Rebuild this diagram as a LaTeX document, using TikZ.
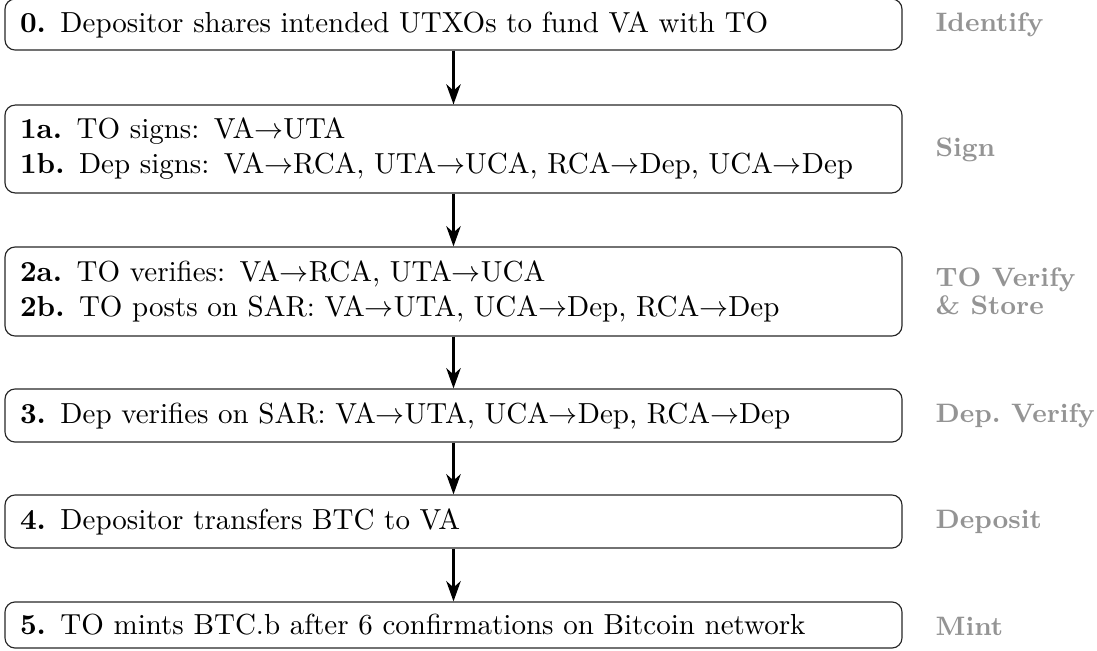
\documentclass[tikz,border=0pt]{standalone}
\usetikzlibrary{arrows.meta}
\begin{document}
\begin{tikzpicture}[x=0.3448pt, y=-0.3448pt,
  stepbox/.style={draw=black!85, line width=0.4pt, rounded corners=3.5pt,
    inner xsep=5.17pt, inner ysep=0pt, text width=298.9pt, align=left,
    minimum width=309.3pt},
  phase/.style={anchor=west, inner sep=0pt, text=black!42,
    font=\fontsize{9.2}{9.8}\selectfont\bfseries, align=left},
  flow/.style={line width=0.75pt, -{Stealth[length=7pt, width=5pt, inset=2.2pt]}}]
\useasboundingbox (0,0) rectangle (1097,651);
% process steps
\node[stepbox, minimum height=17.6pt] (s0) at (453.5,24.5)
  {\textbf{0.} Depositor shares intended UTXOs to fund VA with TO};
\node[stepbox, minimum height=30.3pt] (s1) at (453.5,149)
  {\textbf{1a.} TO signs: VA$\rightarrow$UTA\\
   \textbf{1b.} Dep signs: VA$\rightarrow$RCA, UTA$\rightarrow$UCA, RCA$\rightarrow$Dep, UCA$\rightarrow$Dep};
\node[stepbox, minimum height=30.7pt] (s2) at (453.5,291.5)
  {\textbf{2a.} TO verifies: VA$\rightarrow$RCA, UTA$\rightarrow$UCA\\
   \textbf{2b.} TO posts on SAR: VA$\rightarrow$UTA, UCA$\rightarrow$Dep, RCA$\rightarrow$Dep};
\node[stepbox, minimum height=18.3pt] (s3) at (453.5,415.5)
  {\textbf{3.} Dep verifies on SAR: VA$\rightarrow$UTA, UCA$\rightarrow$Dep, RCA$\rightarrow$Dep};
\node[stepbox, minimum height=18.3pt] (s4) at (453.5,521.5)
  {\textbf{4.} Depositor transfers BTC to VA};
\node[stepbox, minimum height=15.9pt] (s5) at (453.5,625)
  {\textbf{5.} TO mints BTC.b after 6 confirmations on Bitcoin network};
% phase names
\node[phase] (p0) at (935,24.5) {Identify};
\node[phase] (p1) at (935,149.5) {Sign};
\node[phase] (p2) at (935,291.5) {TO Verify\\\& Store};
\node[phase] (p3) at (935,415.5) {Dep.\ Verify};
\node[phase] (p4) at (935,522) {Deposit};
\node[phase] (p5) at (935,626) {Mint};
% flow between steps
\draw[flow] (s0) -- (s1);
\draw[flow] (s1) -- (s2);
\draw[flow] (s2) -- (s3);
\draw[flow] (s3) -- (s4);
\draw[flow] (s4) -- (s5);
\end{tikzpicture}
\end{document}
